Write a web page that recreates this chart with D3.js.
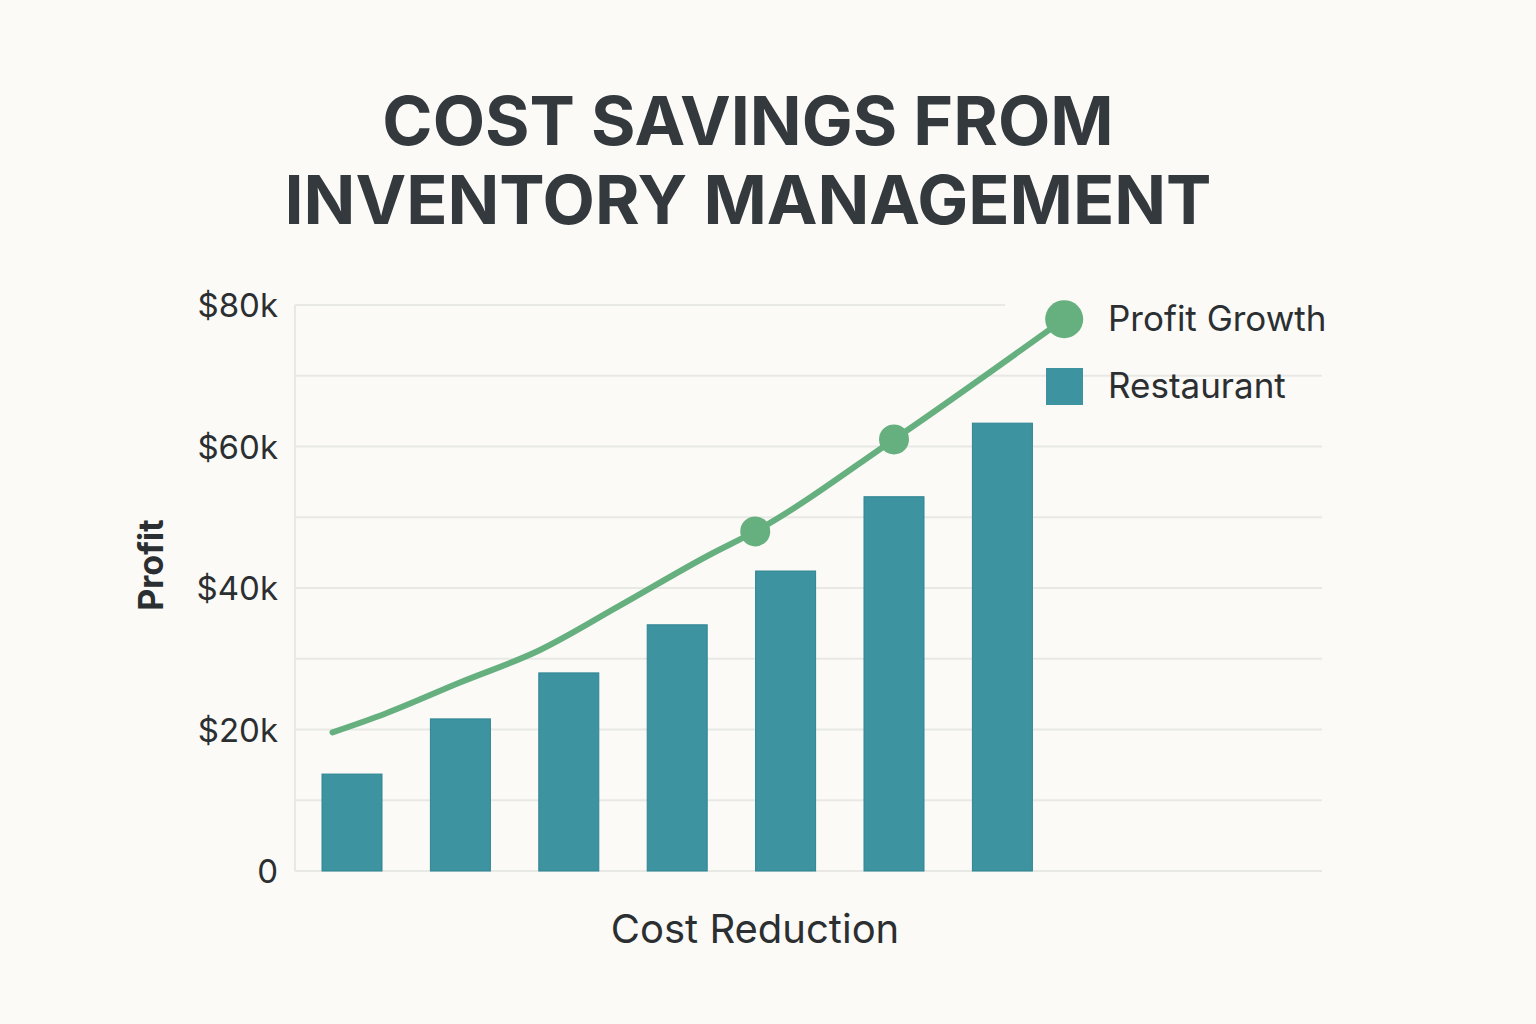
<!DOCTYPE html>
<html><head><meta charset="utf-8">
<script src="https://cdn.jsdelivr.net/npm/d3@7"></script>
<style>body{margin:0;background:#fbfaf7}svg{display:block}</style>
</head><body><div id="chart"></div>
<script>
// bar data (one bar per cost reduction step)
const steps = [0, 1, 2, 3, 4, 5, 6];
const restaurant = [13.7, 21.5, 28, 34.8, 42.4, 52.9, 63.3];
// profit growth curve, x in bar-step units
const lineX = [-0.18, 0.3, 0.99, 1.73, 2.47, 3.3, 3.72, 5.0, 6.57];
const lineY = [19.6, 22.2, 26.6, 31.2, 37.5, 44.7, 48, 61, 78];
const dotIdx = [6, 7, 8];
const yTicks = [0, 20, 40, 60, 80];
const gridTicks = [0, 10, 20, 30, 40, 50, 60, 70, 80];

const W = 1536, H = 1024;
const svg = d3.select('#chart').append('svg').attr('width', W).attr('height', H);
svg.append('rect').attr('width', W).attr('height', H).attr('fill', '#fbfaf7');

const font = 'Inter, "Noto Sans", sans-serif';
const plotL = 295, plotR = 1322;
const y = d3.scaleLinear().domain([0, 80]).range([871, 305]);
const x = d3.scaleLinear().domain([0, 1]).range([352, 460.4]);

svg.selectAll('text.title').data(['COST SAVINGS FROM', 'INVENTORY MANAGEMENT']).enter()
  .append('text').attr('x', 748).attr('y', (d, i) => 145 + i * 79)
  .attr('text-anchor', 'middle').attr('fill', '#33393c')
  .attr('font-family', font).attr('font-weight', 700).attr('font-size', '68px')
  .text(d => d);

svg.append('g').selectAll('line').data(gridTicks).enter().append('line')
  .attr('x1', plotL).attr('x2', d => d === 80 ? 1005 : plotR)
  .attr('y1', d => y(d)).attr('y2', d => y(d))
  .attr('stroke', '#e8e8e5').attr('stroke-width', 2);
svg.append('line').attr('x1', plotL).attr('x2', plotL).attr('y1', y(80)).attr('y2', y(0))
  .attr('stroke', '#e8e8e5').attr('stroke-width', 2);

svg.append('g').selectAll('text').data(yTicks).enter().append('text')
  .attr('x', 278).attr('y', d => y(d) + 12).attr('text-anchor', 'end')
  .attr('fill', '#2b2f31').attr('font-family', font).attr('font-size', '33px')
  .text(d => d === 0 ? '0' : `$${d}k`);

svg.append('text').attr('transform', 'translate(163,565) rotate(-90)')
  .attr('text-anchor', 'middle').attr('fill', '#2b2f31').attr('font-family', font)
  .attr('font-weight', 700).attr('font-size', '34px').text('Profit');
svg.append('text').attr('x', 755).attr('y', 943).attr('text-anchor', 'middle')
  .attr('fill', '#2b2f31').attr('font-family', font).attr('font-size', '40px').text('Cost Reduction');

svg.append('g').selectAll('rect').data(steps).enter().append('rect')
  .attr('x', d => x(d) - 30).attr('width', 60)
  .attr('y', d => y(restaurant[d])).attr('height', d => y(0) - y(restaurant[d]))
  .attr('fill', '#3d93a0').attr('stroke', '#2f8593').attr('stroke-width', 1);

const pts = lineX.map((v, i) => [x(v), y(lineY[i])]);
svg.append('path').attr('d', d3.line().curve(d3.curveMonotoneX)(pts))
  .attr('fill', 'none').attr('stroke', '#66b07f').attr('stroke-width', 6).attr('stroke-linecap', 'round');
svg.append('g').selectAll('circle').data(dotIdx).enter().append('circle')
  .attr('cx', i => pts[i][0]).attr('cy', i => pts[i][1])
  .attr('r', i => i === 8 ? 19 : 15).attr('fill', '#66b07f');

svg.append('text').attr('x', 1108).attr('y', 331).attr('fill', '#2b2f31')
  .attr('font-family', font).attr('font-size', '35px').text('Profit Growth');
svg.append('rect').attr('x', 1046).attr('y', 368).attr('width', 37).attr('height', 37)
  .attr('fill', '#3d93a0');
svg.append('text').attr('x', 1108).attr('y', 398).attr('fill', '#2b2f31')
  .attr('font-family', font).attr('font-size', '35px').text('Restaurant');
</script></body></html>
